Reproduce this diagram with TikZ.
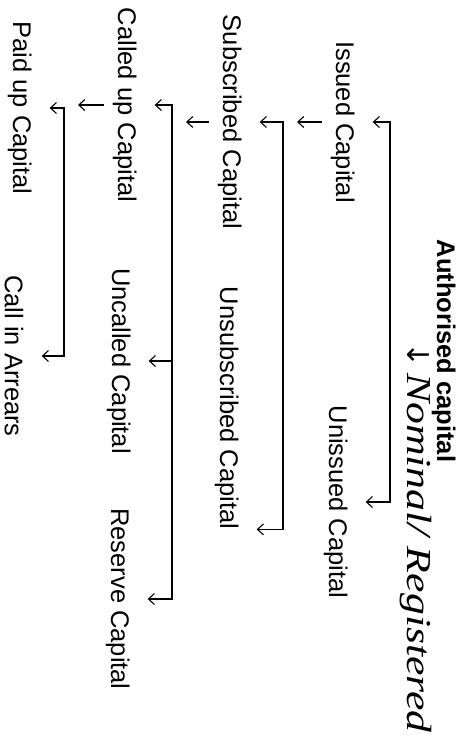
\documentclass[tikz,border=0pt]{standalone}
\usepackage{fontspec}
\setmainfont{Liberation Sans}
\newfontfamily\handfont{Liberation Serif}[FakeStretch=1.25]
\newfontfamily\arrowfont{DejaVu Sans}
\usepackage{tikz}
\usetikzlibrary{arrows.meta, positioning}
\tikzset{
	lbl/.style    ={rotate=-90, anchor=base, inner sep=0pt, font=\fontsize{25.5}{30}\selectfont},
	toplbl/.style ={lbl, font=\fontsize{25.5}{30}\selectfont\bfseries},
	handlbl/.style={lbl, anchor=base west, font=\fontsize{35}{40}\selectfont\handfont\itshape},
	% split arrows of the capital tree
	sig/.style    ={-{Straight Barb[length=6pt, width=11pt]}, line width=1.1pt},
	brk/.style    ={{Straight Barb[length=6pt, width=11pt]}-{Straight Barb[length=6pt, width=11pt]}, line width=1.1pt, shorten <=18pt, shorten >=18pt},
}
\begin{document}
\begin{tikzpicture}[x=1pt, y=-1pt]
	\useasboundingbox (0,0) rectangle (469,736);
	\node[toplbl] (auth) at (437,351) {Authorised capital};
	\node[handlbl] (nominal) at (407,342) {{\arrowfont\upshape\fontsize{30}{30}\selectfont ↓}\,Nominal/ Registered};
	\node[lbl] (issued) at (336,122) {Issued Capital};
	\node[lbl] (unissued) at (329,502) {Unissued Capital};
	\node[lbl] (subscr) at (223,122) {Subscribed Capital};
	\node[lbl] (unsubscr) at (220,408) {Unsubscribed Capital};
	\node[lbl] (calledup) at (118,105) {Called up Capital};
	\node[lbl] (uncalled) at (112,361) {Uncalled Capital};
	\node[lbl] (reserve) at (111,599) {Reserve Capital};
	\node[lbl] (paidup) at (13,108) {Paid up Capital};
	\node[lbl] (arrears) at (5,356) {Call in Arrears};
	\coordinate (bar1) at (390,0);
	\coordinate (bar2) at (283,0);
	\coordinate (bar3) at (172,0);
	\coordinate (bar4) at (64,0);
	\draw[brk] (issued.north) -- (bar1 |- issued.north) -- (bar1 |- unissued.north) -- (unissued.north);
	\draw[sig, shorten <=9pt, shorten >=14pt] (issued.south) -- (bar2 |- issued.south);
	\draw[brk] (subscr.north) -- (bar2 |- subscr.north) -- (bar2 |- unsubscr.north east) -- (unsubscr.north east);
	\draw[sig, shorten <=9pt, shorten >=14pt] (subscr.south) -- (bar3 |- subscr.south);
	\draw[brk] (calledup.north) -- (bar3 |- calledup.north) -- (bar3 |- reserve.north) -- (reserve.north);
	\draw[sig, shorten >=18pt] (bar3 |- uncalled.north) -- (uncalled.north);
	\draw[sig, shorten <=9pt, shorten >=14pt] (calledup.south) -- (bar4 |- calledup.south);
	\draw[brk] (paidup.north) -- (bar4 |- paidup.north) -- (bar4 |- arrears.north) -- (arrears.north);
\end{tikzpicture}
\end{document}
